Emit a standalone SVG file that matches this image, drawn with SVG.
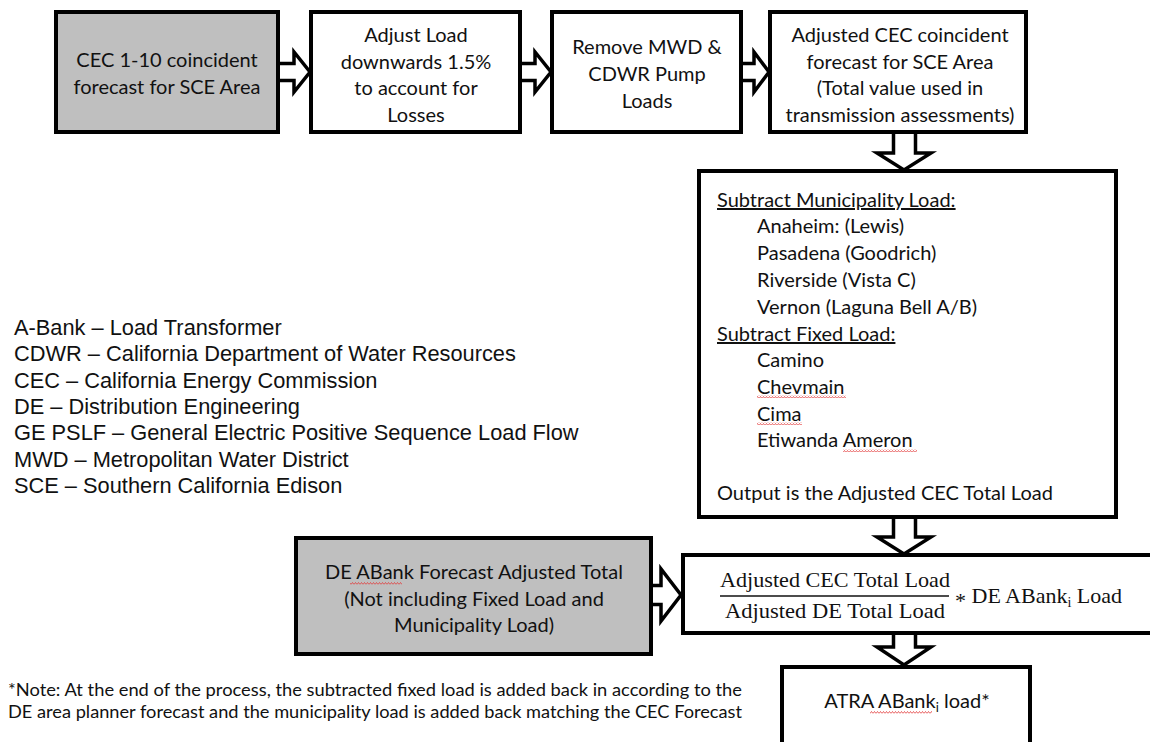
<svg xmlns="http://www.w3.org/2000/svg" width="1150" height="742" viewBox="0 0 1150 742">
<style>
.box{fill:#ffffff;stroke:#000000;stroke-width:4}
.gray{fill:#bfbfbf}
.arrow{fill:#ffffff;stroke:#000000;stroke-width:3.5;stroke-linejoin:miter}
.t{font-family:Lato,"Open Sans","Liberation Sans",sans-serif;font-size:20px;fill:#111111}
.c{text-anchor:middle}
.leg{font-family:"Liberation Sans",Arial,sans-serif;font-size:21.8px;fill:#111111}
.f{font-family:"Liberation Serif","Times New Roman",serif;font-size:22px;fill:#111111}
.note{font-family:Lato,"Liberation Sans",sans-serif;font-size:18px;fill:#111111}
.u{text-decoration:underline}
</style>
<defs>
<pattern id="squig" width="3" height="3" patternUnits="userSpaceOnUse">
<path d="M0,2.5 L1.5,0.5 L3,2.5" fill="none" stroke="#e23a3a" stroke-width="0.8"/>
</pattern>
</defs>
<rect width="1150" height="742" fill="#ffffff"/>

<g id="connectors">
<path class="arrow" d="M280,63.5 H294 V52 L310,72 L294,92 V80.5 H280"/>
<path class="arrow" d="M522,63.5 H535 V52 L551,72 L535,92 V80.5 H522"/>
<path class="arrow" d="M743,63.5 H754 V52 L769,72 L754,92 V80.5 H743"/>
<path class="arrow" d="M893.5,133 V153 H877 L904,170 L931,153 H915.5 V133"/>
<path class="arrow" d="M893.5,518 V537 H877 L904,554 L931,537 H915.5 V518"/>
<path class="arrow" d="M893.5,634 V647 H877 L904,665 L931,647 H915.5 V634"/>
<path class="arrow" d="M652,585.5 H661 V569 L681,595 L661,621 V604.5 H652"/>
</g>

<g id="node-cec-forecast">
<rect class="box gray" x="56" y="12" width="222" height="120"/>
<text class="t c" x="167" y="67">CEC 1-10 coincident</text>
<text class="t c" x="167" y="94">forecast for SCE Area</text>
</g>

<g id="node-adjust-load">
<rect class="box" x="311" y="12" width="209" height="120"/>
<text class="t c" x="416" y="42">Adjust Load</text>
<text class="t c" x="416" y="69">downwards 1.5%</text>
<text class="t c" x="416" y="95">to account for</text>
<text class="t c" x="416" y="122">Losses</text>
</g>

<g id="node-remove-pump">
<rect class="box" x="552" y="12" width="189" height="120"/>
<text class="t c" x="647" y="54">Remove MWD &amp;</text>
<text class="t c" x="647" y="81">CDWR Pump</text>
<text class="t c" x="647" y="108">Loads</text>
</g>

<g id="node-adjusted-cec">
<rect class="box" x="770" y="12" width="256" height="120"/>
<text class="t c" x="900" y="42">Adjusted CEC coincident</text>
<text class="t c" x="900" y="69">forecast for SCE Area</text>
<text class="t c" x="900" y="95">(Total value used in</text>
<text class="t c" x="900" y="122">transmission assessments)</text>
</g>

<g id="node-subtract">
<rect class="box" x="699" y="171" width="417" height="346"/>
<text class="t u" x="717" y="207">Subtract Municipality Load:</text>
<text class="t" x="757" y="233">Anaheim: (Lewis)</text>
<text class="t" x="757" y="260">Pasadena (Goodrich)</text>
<text class="t" x="757" y="287">Riverside (Vista C)</text>
<text class="t" x="757" y="314">Vernon (Laguna Bell A/B)</text>
<text class="t u" x="717" y="341">Subtract Fixed Load:</text>
<text class="t" x="757" y="367">Camino</text>
<text class="t" x="757" y="394">Chevmain</text>
<text class="t" x="757" y="421">Cima</text>
<text class="t" x="757" y="447">Etiwanda Ameron</text>
<text class="t" x="717" y="500">Output is the Adjusted CEC Total Load</text>
<rect x="757" y="395" width="89" height="3" fill="url(#squig)"/>
<rect x="757" y="422" width="45" height="3" fill="url(#squig)"/>
<rect x="843" y="449" width="74" height="3" fill="url(#squig)"/>
</g>

<g id="node-de-abank">
<rect class="box gray" x="296" y="538" width="355" height="116"/>
<text class="t c" x="474" y="579">DE ABank Forecast Adjusted Total</text>
<text class="t c" x="474" y="606">(Not including Fixed Load and</text>
<text class="t c" x="474" y="632">Municipality Load)</text>
<rect x="350" y="582" width="52" height="3" fill="url(#squig)"/>
</g>

<g id="node-formula">
<rect class="box" x="683" y="555" width="480" height="78"/>
<text class="f" x="720" y="587" textLength="230" lengthAdjust="spacingAndGlyphs">Adjusted CEC Total Load</text>
<line x1="720" y1="596" x2="949" y2="596" stroke="#111111" stroke-width="1.3"/>
<text class="f" x="725" y="618" textLength="220" lengthAdjust="spacingAndGlyphs">Adjusted DE Total Load</text>
<text class="f" x="955" y="603"><tspan dy="5">*</tspan><tspan dy="-5"> DE ABank</tspan><tspan dy="4" font-size="14">i</tspan><tspan dy="-4"> Load</tspan></text>
</g>

<g id="node-atra">
<rect class="box" x="782" y="667" width="248" height="90"/>
<text class="t c" x="907" y="708">ATRA ABank<tspan dy="4" font-size="13">i</tspan><tspan dy="-4"> load*</tspan></text>
<rect x="870" y="711" width="62" height="3" fill="url(#squig)"/>
</g>

<g id="legend">
<text class="leg" x="14" y="335">A-Bank – Load Transformer</text>
<text class="leg" x="14" y="361">CDWR – California Department of Water Resources</text>
<text class="leg" x="14" y="388">CEC – California Energy Commission</text>
<text class="leg" x="14" y="414">DE – Distribution Engineering</text>
<text class="leg" x="14" y="440">GE PSLF – General Electric Positive Sequence Load Flow</text>
<text class="leg" x="14" y="467">MWD – Metropolitan Water District</text>
<text class="leg" x="14" y="493">SCE – Southern California Edison</text>
</g>

<g id="note">
<text class="note" x="8" y="696" textLength="734" lengthAdjust="spacingAndGlyphs">*Note: At the end of the process, the subtracted fixed load is added back in according to the</text>
<text class="note" x="8" y="718" textLength="734" lengthAdjust="spacingAndGlyphs">DE area planner forecast and the municipality load is added back matching the CEC Forecast</text>
</g>
</svg>
